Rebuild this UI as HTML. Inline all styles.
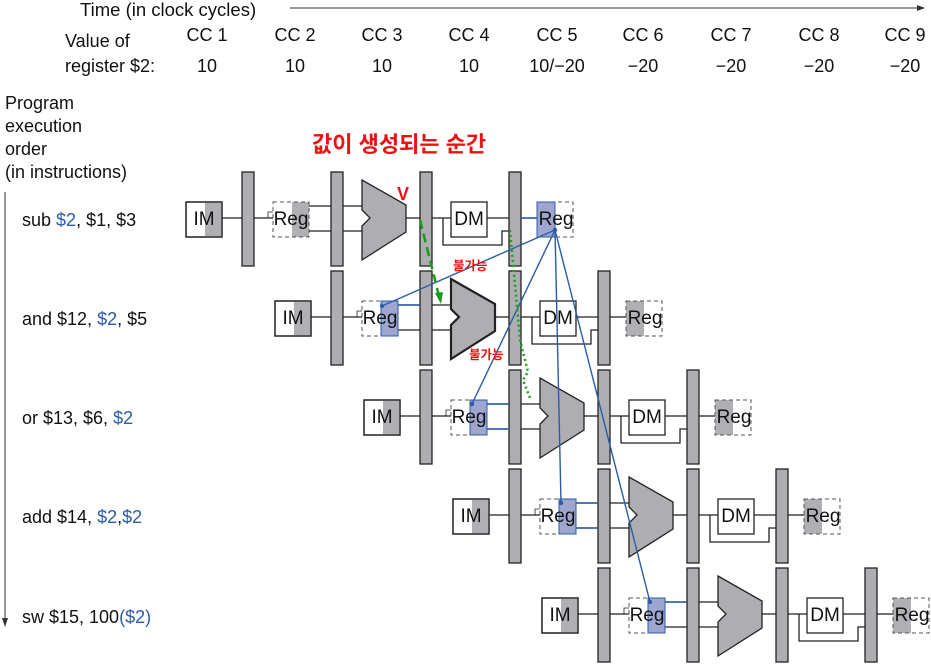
<!DOCTYPE html>
<html><head><meta charset="utf-8"><style>
html,body{margin:0;padding:0;background:#fff;}
svg{display:block;font-family:"Liberation Sans","Noto Sans CJK KR",sans-serif;}
</style></head><body>
<svg width="931" height="664" viewBox="0 0 931 664" xmlns="http://www.w3.org/2000/svg">
<defs>
<g id="row" stroke="#222" stroke-width="1.3">
  <rect x="186" y="202" width="36" height="35" fill="#fff"/>
  <rect x="205" y="202" width="17" height="35" fill="#b0b0b4" stroke="none"/>
  <rect x="186" y="202" width="36" height="35" fill="none"/>
  <line x1="222" y1="218" x2="242" y2="218"/>
  <rect x="242" y="172" width="12" height="94" fill="#aeaeb2"/>
  <line x1="254" y1="218" x2="273" y2="218"/>
  <polyline points="273,212 268,212 268,218" fill="none" stroke-width="0.8"/>
  <rect x="292" y="202" width="17" height="35" fill="#b0b0b4" stroke="none"/>
  <rect x="273" y="202" width="36" height="35" fill="none" stroke="#555" stroke-dasharray="4,3" stroke-width="1"/>
  <line x1="309" y1="206" x2="331" y2="206"/>
  <line x1="309" y1="231" x2="331" y2="231"/>
  <rect x="331" y="172" width="12" height="94" fill="#aeaeb2"/>
  <line x1="343" y1="206" x2="362" y2="206"/>
  <line x1="343" y1="231" x2="362" y2="231"/>
  <polygon points="362,180 406,205 406,232 362,260 362,226 370,218 362,210" fill="#aeaeb2"/>
  <line x1="406" y1="218" x2="420" y2="218"/>
  <rect x="420" y="172" width="12" height="94" fill="#aeaeb2"/>
  <line x1="432" y1="218" x2="451" y2="218"/>
  <polyline points="443,218 443,245 502,245 502,231 509,231" fill="none"/>
  <rect x="451" y="202" width="36" height="35" fill="#fff"/>
  <line x1="487" y1="218" x2="509" y2="218"/>
  <rect x="509" y="172" width="12" height="94" fill="#aeaeb2"/>
  <line x1="521" y1="218" x2="537" y2="218"/>
  <rect x="537" y="202" width="18" height="35" fill="#b0b0b4" stroke="none"/>
  <rect x="537" y="202" width="36" height="35" fill="none" stroke="#555" stroke-dasharray="4,3" stroke-width="1"/>
</g>
</defs>

<!-- header -->
<text x="80" y="16" font-size="18.5" fill="#111">Time (in clock cycles)</text>
<line x1="290" y1="8" x2="922" y2="8" stroke="#333" stroke-width="1"/>
<polygon points="925,8 917,5 917,11" fill="#333"/>
<text x="65" y="47" font-size="18" fill="#111">Value of</text>
<text x="65" y="72" font-size="18" fill="#111">register $2:</text>
<g font-size="18" fill="#111" text-anchor="middle">
<text x="207" y="41">CC 1</text><text x="295" y="41">CC 2</text><text x="382" y="41">CC 3</text>
<text x="469" y="41">CC 4</text><text x="557" y="41">CC 5</text><text x="643" y="41">CC 6</text>
<text x="731" y="41">CC 7</text><text x="819" y="41">CC 8</text><text x="905" y="41">CC 9</text>
<text x="207" y="72">10</text><text x="295" y="72">10</text><text x="382" y="72">10</text>
<text x="469" y="72">10</text><text x="557" y="72">10/−20</text><text x="643" y="72">−20</text>
<text x="731" y="72">−20</text><text x="819" y="72">−20</text><text x="905" y="72">−20</text>
</g>
<g font-size="18" fill="#111">
<text x="5" y="109">Program</text><text x="5" y="132">execution</text>
<text x="5" y="155">order</text><text x="5" y="178">(in instructions)</text>
</g>
<line x1="5" y1="192" x2="5" y2="620" stroke="#333" stroke-width="1"/>
<polygon points="5,627 2,618 8,618" fill="#333"/>

<g font-size="18" fill="#111">
<text x="22" y="226">sub <tspan fill="#2a5ca8">$2</tspan>, $1, $3</text>
<text x="22" y="325">and $12, <tspan fill="#2a5ca8">$2</tspan>, $5</text>
<text x="22" y="424">or $13, $6, <tspan fill="#2a5ca8">$2</tspan></text>
<text x="22" y="523">add $14, <tspan fill="#2a5ca8">$2</tspan>,<tspan fill="#2a5ca8">$2</tspan></text>
<text x="22" y="623">sw $15, 100<tspan fill="#2a5ca8">($2)</tspan></text>
</g>

<!-- rows -->
<use href="#row"/>
<use href="#row" transform="translate(89,99)"/>
<use href="#row" transform="translate(178,198)"/>
<use href="#row" transform="translate(267,297)"/>
<use href="#row" transform="translate(356,396)"/>

<!-- row2 ALU thicker -->
<polygon points="451,279 495,304 495,331 451,359 451,325 459,317 451,309" fill="#aeaeb2" stroke="#222" stroke-width="2.2"/>

<!-- blue overlays -->
<g fill="#9ea6cf" stroke="#2a5ca8" stroke-width="1">
<rect x="537" y="202" width="18" height="35"/>
<rect x="381" y="301" width="17" height="35"/>
<rect x="470" y="400" width="17" height="35"/>
<rect x="559" y="499" width="17" height="35"/>
<rect x="648" y="598" width="17" height="35"/>
</g>
<g stroke="#2a5ca8" stroke-width="1.4">
<line x1="521" y1="218" x2="537" y2="218"/>
<line x1="398" y1="305" x2="420" y2="305"/>
<line x1="487" y1="404" x2="509" y2="404"/>
<line x1="487" y1="429" x2="509" y2="429"/>
<line x1="576" y1="503" x2="598" y2="503"/>
<line x1="576" y1="528" x2="598" y2="528"/>
<line x1="665" y1="602" x2="687" y2="602"/>
</g>

<!-- labels in boxes -->
<g font-size="19" fill="#111" text-anchor="middle">
<text x="204" y="225">IM</text><text x="291" y="225">Reg</text><text x="469" y="225">DM</text><text x="556" y="225">Reg</text>
<text x="293" y="324">IM</text><text x="380" y="324">Reg</text><text x="558" y="324">DM</text><text x="645" y="324">Reg</text>
<text x="382" y="423">IM</text><text x="469" y="423">Reg</text><text x="647" y="423">DM</text><text x="734" y="423">Reg</text>
<text x="471" y="522">IM</text><text x="558" y="522">Reg</text><text x="736" y="522">DM</text><text x="823" y="522">Reg</text>
<text x="560" y="621">IM</text><text x="647" y="621">Reg</text><text x="825" y="621">DM</text><text x="912" y="621">Reg</text>
</g>

<!-- blue dependency lines -->
<g stroke="#2a5ca8" stroke-width="1.4" fill="none">
<line x1="555" y1="230" x2="382" y2="306"/>
<line x1="555" y1="230" x2="472" y2="404"/>
<line x1="555" y1="230" x2="561" y2="503"/>
<line x1="555" y1="230" x2="650" y2="602"/>
</g>
<g fill="#2a5ca8">
<circle cx="555" cy="230" r="2.2"/><circle cx="382" cy="306" r="2.2"/>
<circle cx="472" cy="404" r="2.2"/><circle cx="561" cy="503" r="2.2"/><circle cx="650" cy="602" r="2.2"/>
</g>

<!-- green -->
<line x1="420" y1="220" x2="439" y2="296" stroke="#1a9a1a" stroke-width="2.5" stroke-dasharray="9,5"/>
<polygon points="441,304 435,293 443,292" fill="#1a9a1a"/>
<polyline points="510,230 520,340 528,372 523,380 530,398" fill="none" stroke="#1aa01a" stroke-width="2.5" stroke-dasharray="2,3"/>

<!-- red annotations -->
<text x="312" y="152" font-size="22" font-weight="bold" fill="#ee1111">값이 생성되는 순간</text>
<text x="403" y="200" font-size="18" font-weight="bold" fill="#ee1111" text-anchor="middle">V</text>
<text x="453" y="270" font-size="12.5" font-weight="bold" fill="#ee1111">불가능</text>
<text x="469" y="359" font-size="12.5" font-weight="bold" fill="#ee1111">불가능</text>
</svg>
</body></html>
